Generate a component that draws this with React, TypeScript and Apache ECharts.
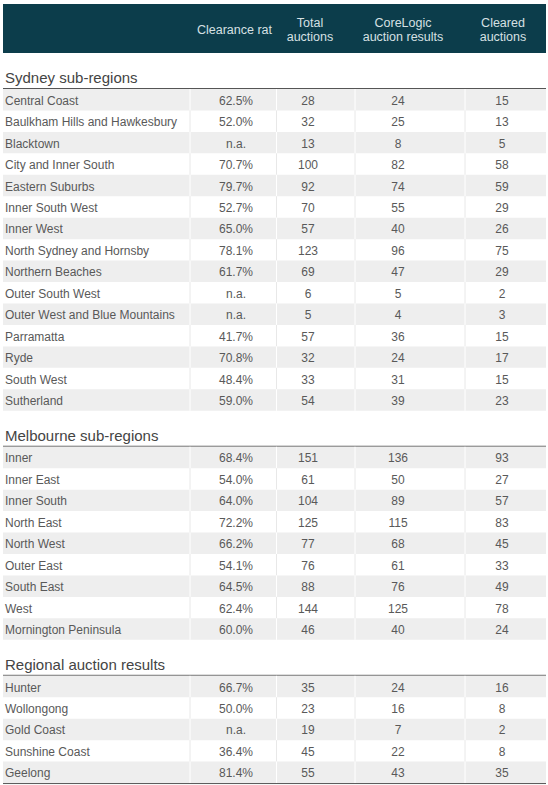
import React, { useEffect, useRef } from "react";
import * as echarts from "echarts";

const headerLabels = ["Clearance rate", "Total\nauctions", "CoreLogic\nauction results", "Cleared\nauctions"];

const sectionTitles = ["Sydney sub-regions", "Melbourne sub-regions", "Regional auction results"];

const sydneyRegions = [
  "Central Coast", "Baulkham Hills and Hawkesbury", "Blacktown", "City and Inner South",
  "Eastern Suburbs", "Inner South West", "Inner West", "North Sydney and Hornsby",
  "Northern Beaches", "Outer South West", "Outer West and Blue Mountains", "Parramatta",
  "Ryde", "South West", "Sutherland",
];
const sydneyClearance = [62.5, 52.0, null, 70.7, 79.7, 52.7, 65.0, 78.1, 61.7, null, null, 41.7, 70.8, 48.4, 59.0];
const sydneyTotal = [28, 32, 13, 100, 92, 70, 57, 123, 69, 6, 5, 57, 32, 33, 54];
const sydneyCoreLogic = [24, 25, 8, 82, 74, 55, 40, 96, 47, 5, 4, 36, 24, 31, 39];
const sydneyCleared = [15, 13, 5, 58, 59, 29, 26, 75, 29, 2, 3, 15, 17, 15, 23];

const melbourneRegions = [
  "Inner", "Inner East", "Inner South", "North East", "North West",
  "Outer East", "South East", "West", "Mornington Peninsula",
];
const melbourneClearance = [68.4, 54.0, 64.0, 72.2, 66.2, 54.1, 64.5, 62.4, 60.0];
const melbourneTotal = [151, 61, 104, 125, 77, 76, 88, 144, 46];
const melbourneCoreLogic = [136, 50, 89, 115, 68, 61, 76, 125, 40];
const melbourneCleared = [93, 27, 57, 83, 45, 33, 49, 78, 24];

const regionalRegions = ["Hunter", "Wollongong", "Gold Coast", "Sunshine Coast", "Geelong"];
const regionalClearance = [66.7, 50.0, null, 36.4, 81.4];
const regionalTotal = [35, 23, 19, 45, 55];
const regionalCoreLogic = [24, 16, 7, 22, 43];
const regionalCleared = [16, 8, 2, 8, 35];

const W = 548;
const H = 785;
const FONT = "Liberation Sans, Arial, Helvetica, sans-serif";

// layout (in axis units; axes map 1 unit = 1px)
const LEFT = 3;
const RIGHT = 546;
const HEADER_TOP = 4;
const HEADER_BOTTOM = 53;
const TITLE_GAP = 35.5;
const ROW_H = 21.45;
const SEPARATORS = [190, 276.5, 355, 465];
const VALUE_X = [236, 308, 398, 502];
const HEADER_X = [197, 310, 403, 503];

type Item =
  | { kind: "header"; y0: number; y1: number }
  | { kind: "title"; y0: number; y1: number; text: string }
  | { kind: "row"; y0: number; y1: number; idx: number; label: string; cells: string[]; last: boolean };

function buildLayout(): Item[] {
  const sections = [
    { title: sectionTitles[0], names: sydneyRegions, c: sydneyClearance, t: sydneyTotal, l: sydneyCoreLogic, d: sydneyCleared },
    { title: sectionTitles[1], names: melbourneRegions, c: melbourneClearance, t: melbourneTotal, l: melbourneCoreLogic, d: melbourneCleared },
    { title: sectionTitles[2], names: regionalRegions, c: regionalClearance, t: regionalTotal, l: regionalCoreLogic, d: regionalCleared },
  ];
  const items: Item[] = [{ kind: "header", y0: HEADER_TOP, y1: HEADER_BOTTOM }];
  let y = HEADER_BOTTOM;
  sections.forEach((s, si) => {
    const lineY = y + TITLE_GAP;
    items.push({ kind: "title", y0: y, y1: lineY, text: s.title });
    y = lineY + 0.5;
    s.names.forEach((name, i) => {
      const cv = s.c[i];
      items.push({
        kind: "row",
        y0: y,
        y1: y + ROW_H,
        idx: i,
        label: name,
        cells: [cv == null ? "n.a." : cv.toFixed(1) + "%", String(s.t[i]), String(s.l[i]), String(s.d[i])],
        last: si === sections.length - 1 && i === s.names.length - 1,
      });
      y += ROW_H;
    });
  });
  return items;
}

export default function App() {
  const ref = useRef<HTMLDivElement>(null);
  useEffect(() => {
    if (!ref.current) return;
    const chart = echarts.init(ref.current, undefined, { renderer: "svg" });
    const layout = buildLayout();

    const renderItem = (params: any, api: any) => {
      const it = layout[params.dataIndex];
      const p = (x: number, y: number) => api.coord([x, y]);
      const [xl, y0] = p(LEFT, it.y0);
      const [xr, y1] = p(RIGHT, it.y1);
      const children: any[] = [];
      if (it.kind === "header") {
        children.push({ type: "rect", shape: { x: xl, y: y0, width: xr - xl, height: y1 - y0 }, style: { fill: "#0c3d4b" } });
        headerLabels.forEach((t, i) => {
          const [hx, hy] = p(HEADER_X[i], (it.y0 + it.y1) / 2 + 1.5);
          children.push({
            type: "text",
            style: {
              text: t,
              x: hx,
              y: hy,
              align: i === 0 ? "left" : "center",
              verticalAlign: "middle",
              fill: "#d6e0e3",
              fontFamily: FONT,
              fontSize: 12.5,
              lineHeight: 14.6,
              ...(i === 0 ? { width: 79, overflow: "truncate", ellipsis: "" } : {}),
            },
          });
        });
      } else if (it.kind === "title") {
        const [tx, ty] = p(5, it.y1 - 11);
        children.push({
          type: "text",
          style: { text: it.text, x: tx, y: ty, align: "left", verticalAlign: "middle", fill: "#444444", fontFamily: FONT, fontSize: 15 },
        });
        children.push({ type: "line", shape: { x1: xl, y1: y1, x2: xr, y2: y1 }, style: { stroke: "#555555", lineWidth: 1 } });
      } else {
        const shaded = it.idx % 2 === 0;
        if (shaded) {
          children.push({ type: "rect", shape: { x: xl, y: y0, width: xr - xl, height: y1 - y0 }, style: { fill: "#eeeeee" } });
        }
        SEPARATORS.forEach((sx) => {
          const [px] = p(sx, it.y0);
          children.push({
            type: "line",
            shape: { x1: px, y1: y0, x2: px, y2: y1 },
            style: { stroke: shaded ? "#ffffff" : "#e8e8e8", lineWidth: 1 },
          });
        });
        const cy = (y0 + y1) / 2 + 1;
        const [lx] = p(5, it.y0);
        children.push({
          type: "text",
          style: { text: it.label, x: lx, y: cy, align: "left", verticalAlign: "middle", fill: "#595959", fontFamily: FONT, fontSize: 12 },
        });
        it.cells.forEach((c, ci) => {
          const [vx] = p(VALUE_X[ci], it.y0);
          children.push({
            type: "text",
            style: { text: c, x: vx, y: cy, align: "center", verticalAlign: "middle", fill: "#595959", fontFamily: FONT, fontSize: 12 },
          });
        });
        if (it.last) {
          children.push({ type: "line", shape: { x1: xl, y1: y1 + 0.5, x2: xr, y2: y1 + 0.5 }, style: { stroke: "#555555", lineWidth: 1 } });
        }
      }
      return { type: "group", children };
    };

    chart.setOption({
      animation: false,
      backgroundColor: "#ffffff",
      grid: { left: 0, right: 0, top: 0, bottom: 0 },
      xAxis: { type: "value", min: 0, max: W, show: false },
      yAxis: { type: "value", min: 0, max: H, inverse: true, show: false },
      series: [
        {
          type: "custom",
          clip: false,
          renderItem,
          data: layout.map((l) => [0, l.y0]),
          encode: { x: 0, y: 1 },
          silent: true,
        },
      ],
    });
    return () => chart.dispose();
  }, []);
  return <div ref={ref} style={{ position: "fixed", left: 0, top: 0, width: W, height: H }} />;
}
